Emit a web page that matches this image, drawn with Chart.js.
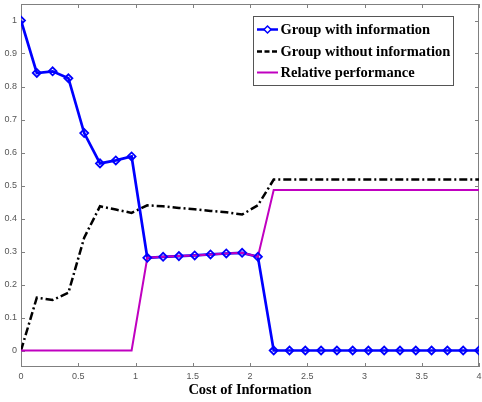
<!DOCTYPE html>
<html>
<head>
<meta charset="utf-8">
<script src="https://cdn.jsdelivr.net/npm/chart.js@4.4.0/dist/chart.umd.min.js"></script>
<style>
  body { margin: 0; background: #fff; }
  #wrap { width: 482px; height: 402px; }
</style>
</head>
<body>
<div id="wrap"><canvas id="costChart" width="482" height="402"></canvas></div>
<script>
// cost of information (x), 30 samples
const costValues = [0, 0.138, 0.276, 0.414, 0.552, 0.690, 0.828, 0.966, 1.103, 1.241,
  1.379, 1.517, 1.655, 1.793, 1.931, 2.069, 2.207, 2.345, 2.483, 2.621,
  2.759, 2.897, 3.034, 3.172, 3.310, 3.448, 3.586, 3.724, 3.862, 4.0];

const withInfo = [1.0, 0.841, 0.846, 0.825, 0.659, 0.567, 0.576, 0.588, 0.281, 0.284,
  0.286, 0.288, 0.291, 0.294, 0.296, 0.284, 0, 0, 0, 0,
  0, 0, 0, 0, 0, 0, 0, 0, 0, 0];

const withoutInfo = [0, 0.160, 0.153, 0.175, 0.342, 0.437, 0.427, 0.417, 0.440, 0.437,
  0.432, 0.428, 0.423, 0.419, 0.412, 0.440, 0.518, 0.518, 0.518, 0.518,
  0.518, 0.518, 0.518, 0.518, 0.518, 0.518, 0.518, 0.518, 0.518, 0.518];

const relativePerf = [0, 0, 0, 0, 0, 0, 0, 0, 0.281, 0.284,
  0.286, 0.288, 0.291, 0.294, 0.296, 0.284, 0.486, 0.486, 0.486, 0.486,
  0.486, 0.486, 0.486, 0.486, 0.486, 0.486, 0.486, 0.486, 0.486, 0.486];

const seriesNames = ['Group with information', 'Group without information', 'Relative performance'];

const xTickValues = [0, 0.5, 1, 1.5, 2, 2.5, 3, 3.5, 4];
const xTickLabels = ['0', '0.5', '1', '1.5', '2', '2.5', '3', '3.5', '4'];
const yTickValues = [0, 0.1, 0.2, 0.3, 0.4, 0.5, 0.6, 0.7, 0.8, 0.9, 1];
const yTickLabels = ['0', '0.1', '0.2', '0.3', '0.4', '0.5', '0.6', '0.7', '0.8', '0.9', '1'];

const BLUE = '#0000ff';
const MAGENTA = '#c000c0';

function toPoints(values) {
    return values.map((v, i) => ({ x: costValues[i], y: v }));
}

// box around the plot with inward tick marks on all four sides
const frameTicks = {
    id: 'frameTicks',
    beforeDatasetsDraw(chart) {
        const { ctx, chartArea: a, scales } = chart;
        ctx.save();
        ctx.strokeStyle = '#808080';
        ctx.lineWidth = 1;
        ctx.strokeRect(a.left + 0.5, a.top + 0.5, a.right - a.left - 1, a.bottom - a.top - 1);
        ctx.beginPath();
        xTickValues.forEach(v => {
            const px = Math.round(scales.x.getPixelForValue(v)) + 0.5;
            ctx.moveTo(px, a.bottom); ctx.lineTo(px, a.bottom - 4);
            ctx.moveTo(px, a.top); ctx.lineTo(px, a.top + 4);
        });
        yTickValues.forEach(v => {
            const py = Math.round(scales.y.getPixelForValue(v)) + 0.5;
            ctx.moveTo(a.left, py); ctx.lineTo(a.left + 4, py);
            ctx.moveTo(a.right, py); ctx.lineTo(a.right - 4, py);
        });
        ctx.stroke();
        ctx.restore();
    }
};

// legend in the MATLAB style: line sample + bold serif text inside a box
const boxLegend = {
    id: 'boxLegend',
    afterDraw(chart) {
        const ctx = chart.ctx;
        const left = 253, top = 16, width = 200, height = 69;
        const rows = [29.5, 51.5, 72.5];
        ctx.save();
        ctx.fillStyle = '#fff';
        ctx.fillRect(left, top, width, height);
        ctx.strokeStyle = '#555';
        ctx.lineWidth = 1;
        ctx.strokeRect(left + 0.5, top + 0.5, width, height);

        const styles = [
            { color: BLUE, dash: [], width: 2.5 },
            { color: '#000', dash: [5, 2.5], width: 2.5 },
            { color: MAGENTA, dash: [], width: 2 }
        ];
        styles.forEach((s, i) => {
            ctx.beginPath();
            ctx.setLineDash(s.dash);
            ctx.strokeStyle = s.color;
            ctx.lineWidth = s.width;
            ctx.moveTo(257, rows[i]);
            ctx.lineTo(278, rows[i]);
            ctx.stroke();
        });
        ctx.setLineDash([]);
        // diamond marker on the first sample
        ctx.beginPath();
        ctx.strokeStyle = BLUE;
        ctx.lineWidth = 1.5;
        ctx.moveTo(267.5, rows[0] - 3.5);
        ctx.lineTo(271, rows[0]);
        ctx.lineTo(267.5, rows[0] + 3.5);
        ctx.lineTo(264, rows[0]);
        ctx.closePath();
        ctx.fillStyle = '#fff';
        ctx.fill();
        ctx.stroke();

        ctx.fillStyle = '#000';
        ctx.font = 'bold 14.5px "Liberation Serif"';
        ctx.textBaseline = 'middle';
        seriesNames.forEach((name, i) => ctx.fillText(name, 280.5, rows[i] + 0.5));
        ctx.restore();
    }
};

const ctx = document.getElementById('costChart').getContext('2d');
new Chart(ctx, {
    type: 'line',
    data: {
        datasets: [
            {
                label: seriesNames[0] + ' markers',
                data: toPoints(withInfo),
                showLine: false,
                pointStyle: 'rectRot',
                pointRadius: 4,
                pointBorderWidth: 1.8,
                pointBorderColor: BLUE,
                pointBackgroundColor: 'rgba(255,255,255,0)',
                order: 0
            },
            {
                label: seriesNames[2],
                data: toPoints(relativePerf),
                borderColor: MAGENTA,
                borderWidth: 2,
                pointRadius: 0,
                order: 1
            },
            {
                label: seriesNames[0],
                data: toPoints(withInfo),
                borderColor: BLUE,
                borderWidth: 2.7,
                pointRadius: 0,
                order: 2
            },
            {
                label: seriesNames[1],
                data: toPoints(withoutInfo),
                borderColor: '#000',
                borderWidth: 2.5,
                borderDash: [8, 3, 2, 3],
                pointRadius: 0,
                order: 3
            }
        ]
    },
    options: {
        responsive: false,
        animation: false,
        layout: { autoPadding: false, padding: { top: 4, right: 3, left: 0, bottom: 0 } },
        plugins: {
            legend: { display: false },
            tooltip: { enabled: false }
        },
        scales: {
            x: {
                type: 'linear',
                min: 0,
                max: 4,
                afterBuildTicks: scale => { scale.ticks = xTickValues.map(v => ({ value: v })); },
                afterFit: scale => {
                    scale.height = 35;
                    scale.paddingLeft = 0;
                    scale.paddingRight = 0;
                },
                grid: { display: false, drawTicks: false },
                border: { display: false },
                ticks: {
                    padding: 4,
                    color: '#555',
                    font: { family: 'Liberation Sans', size: 9 },
                    maxRotation: 0,
                    callback: (value, index) => xTickLabels[index]
                },
                title: {
                    display: true,
                    text: 'Cost of Information',
                    color: '#000',
                    font: { family: 'Liberation Serif', weight: 'bold', size: 14.5 },
                    padding: { top: 0, bottom: 3 }
                }
            },
            y: {
                min: -0.05,
                max: 1.05,
                afterBuildTicks: scale => { scale.ticks = yTickValues.map(v => ({ value: v })); },
                afterFit: scale => {
                    scale.width = 21;
                    scale.paddingTop = 0;
                    scale.paddingBottom = 0;
                },
                grid: { display: false, drawTicks: false },
                border: { display: false },
                ticks: {
                    padding: 4,
                    color: '#555',
                    font: { family: 'Liberation Sans', size: 9 },
                    callback: (value, index) => yTickLabels[index]
                }
            }
        }
    },
    plugins: [frameTicks, boxLegend]
});
</script>
</body>
</html>
